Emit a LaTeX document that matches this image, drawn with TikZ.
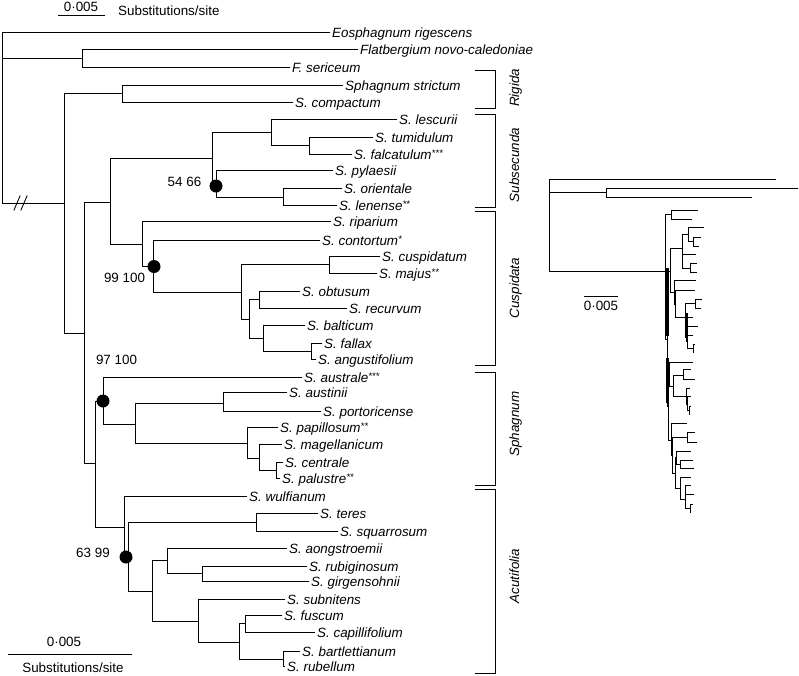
\documentclass[tikz,border=0pt]{standalone}
\usepackage{fontspec}
\setmainfont{Liberation Sans}
\newcommand\hl[3]{\draw[br] (#2,#1) -- (#3,#1);}
\newcommand\vl[3]{\draw[br] (#1,#2) -- (#1,#3);}
\newcommand\showlabel[4]{\node[taxon] (#1) at (#2+2,#3+5) {#4};}
\newcommand\leaf[5]{\draw[br] (#2,#4) -- (#3,#4);\showlabel{#1}{#3}{#4}{#5}}
\newcommand\st[1]{\raisebox{2.5pt}{\fontsize{9.5}{9.5}\selectfont #1}}
\newcommand\cladebar[5]{\draw[br] (475,#2) -- (495,#2) -- (495,#3) -- (475,#3);
  \node[cladelab] (#1) at (519,#4) {#5};}
\newcommand\ingroup{%
\vl{64}{93.5}{333}
\hl{93.5}{64}{122}\vl{122}{85}{102}
\leaf{strictum}{122}{343}{85}{Sphagnum strictum}
\leaf{compactum}{122}{293}{102}{S. compactum}
\hl{333}{64}{84}\vl{84}{202}{463}
\hl{202}{84}{110}\vl{110}{158}{244}
\hl{158}{110}{212}\vl{212}{132}{186}
\hl{132}{212}{271}\vl{271}{119}{145}
\leaf{lescurii}{271}{397}{119}{S. lescurii}
\hl{145}{271}{309}\vl{309}{137}{154}
\leaf{tumidulum}{309}{373}{137}{S. tumidulum}
\leaf{falcatulum}{309}{352}{154}{S. falcatulum\st{***}}
\hl{186}{212}{216}\vl{216}{170}{197}
\leaf{pylaesii}{216}{333}{170}{S. pylaesii}
\hl{197}{216}{283}\vl{283}{188}{205}
\leaf{orientale}{283}{342}{188}{S. orientale}
\leaf{lenense}{283}{337}{205}{S. lenense\st{**}}
\hl{244}{110}{142}\vl{142}{221}{266}
\leaf{riparium}{142}{331}{221}{S. riparium}
\hl{266}{142}{153}\vl{153}{240}{292}
\leaf{contortum}{153}{320}{240}{S. contortum\st{*}}
\hl{292}{153}{241}\vl{241}{264}{319}
\hl{264}{241}{329}\vl{329}{256}{273}
\leaf{cuspidatum}{329}{380}{256}{S. cuspidatum}
\leaf{majus}{329}{377}{273}{S. majus\st{**}}
\hl{319}{241}{249}\vl{249}{299}{338}
\hl{299}{249}{259}\vl{259}{291}{308}
\leaf{obtusum}{259}{300}{291}{S. obtusum}
\leaf{recurvum}{259}{347}{308}{S. recurvum}
\hl{338}{249}{263}\vl{263}{325}{351}
\leaf{balticum}{263}{305}{325}{S. balticum}
\hl{351}{263}{311}\vl{311}{343}{359}
\leaf{fallax}{311}{322}{343}{S. fallax}
\leaf{angustifolium}{311}{316}{359}{S. angustifolium}
\hl{463}{84}{95}\vl{95}{401}{527}
\hl{401}{95}{103}\vl{103}{377}{424}
\leaf{australe}{103}{302}{377}{S. australe\st{***}}
\hl{424}{103}{135}\vl{135}{403}{443}
\hl{403}{135}{223}\vl{223}{392}{411}
\leaf{austinii}{223}{287}{392}{S. austinii}
\leaf{portoricense}{223}{321}{411}{S. portoricense}
\hl{443}{135}{247}\vl{247}{427}{458}
\leaf{papillosum}{247}{278}{427}{S. papillosum\st{**}}
\hl{458}{247}{259}\vl{259}{444}{470}
\leaf{magellanicum}{259}{282}{444}{S. magellanicum}
\hl{470}{259}{276}\vl{276}{462}{478}
\leaf{centrale}{276}{283}{462}{S. centrale}
\leaf{palustre}{276}{280}{478}{S. palustre\st{**}}
\hl{527}{95}{124}\vl{124}{496}{557}
\leaf{wulfianum}{124}{247}{496}{S. wulfianum}
\hl{557}{124}{128}\vl{128}{522}{591}
\hl{522}{128}{256}\vl{256}{513}{531}
\leaf{teres}{256}{318}{513}{S. teres}
\leaf{squarrosum}{256}{338}{531}{S. squarrosum}
\hl{591}{128}{152}\vl{152}{560}{621}
\hl{560}{152}{167}\vl{167}{548}{573}
\leaf{aongstroemii}{167}{287}{548}{S. aongstroemii}
\hl{573}{167}{202}\vl{202}{566}{581}
\leaf{rubiginosum}{202}{307}{566}{S. rubiginosum}
\leaf{girgensohnii}{202}{309}{581}{S. girgensohnii}
\hl{621}{152}{198}\vl{198}{599}{642}
\leaf{subnitens}{198}{285}{599}{S. subnitens}
\hl{642}{198}{239}\vl{239}{623}{659}
\hl{623}{239}{245}\vl{245}{615}{632}
\leaf{fuscum}{245}{282}{615}{S. fuscum}
\leaf{capillifolium}{245}{315}{632}{S. capillifolium}
\hl{659}{239}{283}\vl{283}{651}{666}
\leaf{bartlettianum}{283}{300}{651}{S. bartlettianum}
\leaf{rubellum}{283}{285}{666}{S. rubellum}
}
\begin{document}
\begin{tikzpicture}[x=1pt,y=-1pt,
  font=\fontsize{13.4}{15}\selectfont,
  br/.style={line width=0.9pt,line cap=rect},
  taxon/.style={anchor=base west,inner sep=0pt,font=\fontsize{13.4}{15}\selectfont\itshape},
  cladelab/.style={anchor=base,rotate=90,inner sep=0pt,font=\fontsize{13.4}{15}\selectfont\itshape},
  suplab/.style={anchor=base,inner sep=0pt},
  plain/.style={inner sep=0pt}]
\useasboundingbox (0,0) rectangle (799,675);
% outgroup of main tree
\vl{2}{32}{203}
\leaf{eos}{2}{330}{32}{Eosphagnum rigescens}
\hl{58}{2}{82}\vl{82}{49}{67}
\leaf{flat}{82}{358}{49}{Flatbergium novo-caledoniae}
\leaf{seric}{82}{290}{67}{F. sericeum}
\hl{203}{2}{64}
\draw[br] (14,210) -- (20,196);
\draw[br] (21,210) -- (27,196);
% ingroup
\ingroup
% support dots
\fill (216,186) circle[radius=6.5];
\fill (154,266.5) circle[radius=6.5];
\fill (103,401) circle[radius=6.5];
\fill (126,557) circle[radius=6.5];
\node[suplab] (s1) at (184.5,186) {54 66};
\node[suplab] (s2) at (124.5,282) {99 100};
\node[suplab] (s3) at (116.5,364) {97 100};
\node[suplab] (s4) at (93,557) {63 99};
% clade brackets
\cladebar{rig}{70}{108}{88}{Rigida}
\cladebar{sub}{114}{207}{165}{Subsecunda}
\cladebar{cus}{211}{365}{288}{Cuspidata}
\cladebar{sph}{372}{485}{424}{Sphagnum}
\cladebar{acu}{489}{673}{576}{Acutifolia}
% scale bars
\draw[br] (58,15.5) -- (105,15.5);
\node[plain,anchor=base] (sb1) at (81,11.5) {0·005};
\node[plain,anchor=base west] (sb1t) at (118,15.7) {Substitutions/site};
\draw[br] (8,654) -- (132,654);
\node[plain,anchor=base] (sb2) at (64,646) {0·005};
\node[plain,anchor=base] (sb2t) at (73,672) {Substitutions/site};
% inset tree
\begin{scope}[shift={(657.64,166)},xscale=0.115,yscale=0.52]
  \renewcommand\showlabel[4]{}
  \ingroup
  \coordinate (inroot) at (64,203);
\end{scope}
\draw[br] (549,179) -- (776,179);
\draw[br] (549,179) |- (inroot);
\hl{192}{549}{606}\vl{606}{188}{197}
\hl{188}{606}{798}
\hl{197}{606}{752}
\draw[line width=3pt] (667.3,268) -- (667.3,336);
\draw[line width=3pt] (667.3,358) -- (667.3,403);
\draw[line width=2.2pt] (686.5,313) -- (686.5,338);
\draw[br] (584,296) -- (618,296);
\node[plain,anchor=base] (sb3) at (601,310) {0·005};
\end{tikzpicture}
\end{document}
